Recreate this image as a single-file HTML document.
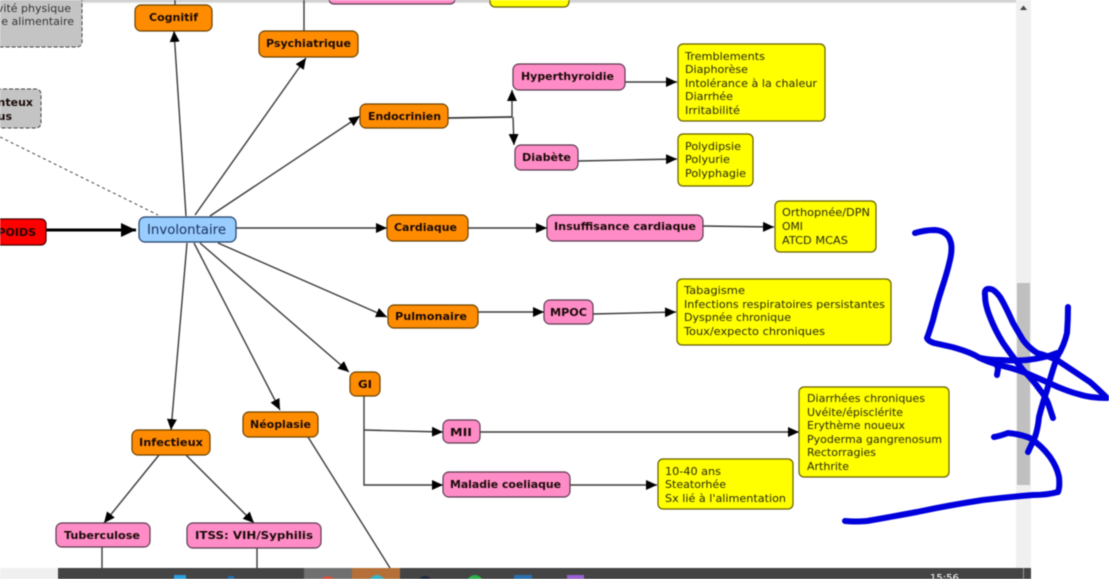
<!DOCTYPE html>
<html><head><meta charset="utf-8"><style>
html,body{margin:0;padding:0;width:1109px;height:579px;overflow:hidden;background:#fff}
svg{display:block;position:absolute;left:0;top:0}
#d{filter:blur(.5px)}
text{font-family:"DejaVu Sans","Liberation Sans",sans-serif}
.b{font-size:11px;font-weight:bold;fill:#1a0a08}
.y{font-size:11px;fill:#2a2a10}
.o{fill:#ff8c00;stroke:#6b4200;stroke-width:1.2}
.p{fill:#ff8cc6;stroke:#5a3a50;stroke-width:1.2}
.w{fill:#ffff00;stroke:#665f00;stroke-width:1.2}
.g{fill:#c4c4c4;stroke:#444;stroke-width:1;stroke-dasharray:4 2}
.l{fill:none;stroke:#3a3a3a;stroke-width:1.4;marker-end:url(#a)}
.m{fill:none;stroke:#3a3a3a;stroke-width:1.4}
.s{fill:none;stroke:#0000dc;stroke-width:6;stroke-linecap:round;stroke-linejoin:round}
</style></head><body>
<svg id="d" width="1109" height="579" viewBox="0 0 1109 579" xmlns="http://www.w3.org/2000/svg">
<defs>
<marker id="a" markerUnits="userSpaceOnUse" markerWidth="12" markerHeight="10" refX="11" refY="5" orient="auto"><path d="M0 0L11 5L0 10Z" fill="#000"/></marker>
<marker id="t" markerUnits="userSpaceOnUse" markerWidth="16" markerHeight="14" refX="15" refY="7" orient="auto"><path d="M0 0L15 7L0 14Z" fill="#000"/></marker>
<linearGradient id="sh" x1="0" y1="0" x2="0" y2="1"><stop offset="0" stop-color="#bbb"/><stop offset="1" stop-color="#fff"/></linearGradient>
</defs>
<rect x="0" y="0" width="1016" height="4" fill="url(#sh)"/>

<!-- scrollbar -->
<rect x="1016" y="0" width="15" height="568" fill="#f0f0f0"/>
<rect x="1017" y="283" width="13" height="202" fill="#c0c0c0"/>
<path d="M1020 10L1023.500 5.500L1027 10Z" fill="#444"/>

<!-- connectors -->
<path d="M0 137L158 215" fill="none" stroke="#444" stroke-width="1" stroke-dasharray="3 3"/>
<path d="M46 230L136 230" fill="none" stroke="#000" stroke-width="3" marker-end="url(#t)"/>
<path class="l" d="M186 216L174 31"/>
<path class="l" d="M195 215L306 58"/>
<path class="l" d="M210 216L360 116"/>
<path class="l" d="M236 228L387 228"/>
<path class="l" d="M218 243L387 317"/>
<path class="l" d="M200 243L349 372"/>
<path class="l" d="M194 243L280 410"/>
<path class="l" d="M187 243L171 430"/>
<path class="m" d="M308 437L390 568"/>
<path class="l" d="M159 455L104 523"/>
<path class="l" d="M186 455L254 523"/>
<path class="m" d="M102 547V568M257 548V568M175 0V5M304 0V31"/>
<path class="m" style="stroke-width:1.800" d="M448 118L512 117"/>
<path class="l" d="M512 117L512 90"/>
<path class="l" d="M513 117L514 145"/>
<path class="l" d="M625 82L677 82"/>
<path class="l" d="M578 161L677 159"/>
<path class="l" d="M468 228L547 228"/>
<path class="l" d="M703 226L774 227"/>
<path class="l" d="M478 312L544 312"/>
<path class="l" d="M593 314L676 312"/>
<path class="l" d="M364 396L364 485L443 485"/>
<path class="l" d="M364 430L443 432"/>
<path class="l" d="M480 432L799 432"/>
<path class="l" d="M570 485L657 485"/>

<!-- grey -->
<rect class="g" x="-20" y="-10" width="102" height="57" rx="5"/>
<text x="71" y="12" text-anchor="end" font-size="11" fill="#333">vité physique</text>
<text x="74" y="25" text-anchor="end" font-size="11" fill="#333">e alimentaire</text>
<rect class="g" x="-20" y="89" width="61" height="39" rx="5"/>
<text x="33" y="106" text-anchor="end" class="b">nteux</text>
<text x="12" y="120" text-anchor="end" class="b">us</text>

<!-- red + blue -->
<rect x="-20" y="219" width="66" height="26" rx="5" fill="#ff0000" stroke="#400" stroke-width="1.2"/>
<text x="36" y="236" text-anchor="end" class="b">POIDS</text>
<rect x="139" y="217" width="97" height="25" rx="6" fill="#99ccff" stroke="#1f3f66" stroke-width="1.2"/>
<text x="147" y="234" font-size="13" fill="#1a3560" textLength="79" lengthAdjust="spacingAndGlyphs">Involontaire</text>

<!-- top fragments -->
<rect class="p" x="329" y="-10" width="126" height="14" rx="5"/>
<rect class="w" x="490" y="-10" width="79" height="17" rx="5"/>

<!-- orange -->
<rect class="o" x="135" y="5" width="77" height="26" rx="6"/>
<text class="b" x="149" y="21" textLength="49" lengthAdjust="spacingAndGlyphs">Cognitif</text>
<rect class="o" x="259" y="31" width="99" height="26" rx="6"/>
<text class="b" x="266" y="47" textLength="85" lengthAdjust="spacingAndGlyphs">Psychiatrique</text>
<rect class="o" x="360" y="104" width="88" height="24" rx="6"/>
<text class="b" x="368" y="120" textLength="73" lengthAdjust="spacingAndGlyphs">Endocrinien</text>
<rect class="o" x="387" y="215" width="81" height="26" rx="6"/>
<text class="b" x="394" y="231" textLength="63" lengthAdjust="spacingAndGlyphs">Cardiaque</text>
<rect class="o" x="388" y="305" width="90" height="23" rx="6"/>
<text class="b" x="395" y="320" textLength="72" lengthAdjust="spacingAndGlyphs">Pulmonaire</text>
<rect class="o" x="350" y="372" width="30" height="24" rx="6"/>
<text class="b" x="358" y="388" textLength="14" lengthAdjust="spacingAndGlyphs">GI</text>
<rect class="o" x="243" y="412" width="75" height="25" rx="6"/>
<text class="b" x="250" y="428" textLength="61" lengthAdjust="spacingAndGlyphs">Néoplasie</text>
<rect class="o" x="132" y="430" width="78" height="25" rx="6"/>
<text class="b" x="139" y="446" textLength="64" lengthAdjust="spacingAndGlyphs">Infectieux</text>

<!-- pink -->
<rect class="p" x="513" y="64" width="112" height="26" rx="6"/>
<text class="b" x="521" y="80" textLength="93" lengthAdjust="spacingAndGlyphs">Hyperthyroidie</text>
<rect class="p" x="515" y="145" width="63" height="25" rx="6"/>
<text class="b" x="522" y="161" textLength="49" lengthAdjust="spacingAndGlyphs">Diabète</text>
<rect class="p" x="547" y="215" width="156" height="26" rx="6"/>
<text class="b" x="554" y="230" textLength="142" lengthAdjust="spacingAndGlyphs">Insuffisance cardiaque</text>
<rect class="p" x="544" y="300" width="49" height="24" rx="6"/>
<text class="b" x="550" y="316" textLength="37" lengthAdjust="spacingAndGlyphs">MPOC</text>
<rect class="p" x="443" y="420" width="37" height="23" rx="6"/>
<text class="b" x="450" y="436" textLength="22" lengthAdjust="spacingAndGlyphs">MII</text>
<rect class="p" x="443" y="472" width="127" height="25" rx="6"/>
<text class="b" x="450" y="488" textLength="111" lengthAdjust="spacingAndGlyphs">Maladie coeliaque</text>
<rect class="p" x="56" y="523" width="94" height="24" rx="6"/>
<text class="b" x="64" y="539" textLength="76" lengthAdjust="spacingAndGlyphs">Tuberculose</text>
<rect class="p" x="187" y="523" width="134" height="25" rx="6"/>
<text class="b" x="195" y="539" textLength="118" lengthAdjust="spacingAndGlyphs">ITSS: VIH/Syphilis</text>

<!-- yellow -->
<rect class="w" x="678" y="44" width="147" height="77" rx="5"/>
<text class="y" x="685" y="60" textLength="80" lengthAdjust="spacingAndGlyphs">Tremblements</text>
<text class="y" x="685" y="73" textLength="63" lengthAdjust="spacingAndGlyphs">Diaphorèse</text>
<text class="y" x="685" y="87" textLength="132" lengthAdjust="spacingAndGlyphs">Intolérance à la chaleur</text>
<text class="y" x="685" y="100" textLength="48" lengthAdjust="spacingAndGlyphs">Diarrhée</text>
<text class="y" x="685" y="114" textLength="55" lengthAdjust="spacingAndGlyphs">Irritabilité</text>

<rect class="w" x="678" y="134" width="75" height="52" rx="5"/>
<text class="y" x="685" y="150" textLength="56" lengthAdjust="spacingAndGlyphs">Polydipsie</text>
<text class="y" x="685" y="163" textLength="45" lengthAdjust="spacingAndGlyphs">Polyurie</text>
<text class="y" x="685" y="177" textLength="61" lengthAdjust="spacingAndGlyphs">Polyphagie</text>

<rect class="w" x="775" y="201" width="101" height="51" rx="5"/>
<text class="y" x="782" y="216" textLength="88" lengthAdjust="spacingAndGlyphs">Orthopnée/DPN</text>
<text class="y" x="782" y="230" textLength="21" lengthAdjust="spacingAndGlyphs">OMI</text>
<text class="y" x="782" y="244" textLength="66" lengthAdjust="spacingAndGlyphs">ATCD MCAS</text>

<rect class="w" x="677" y="279" width="214" height="66" rx="5"/>
<text class="y" x="684" y="294" textLength="61" lengthAdjust="spacingAndGlyphs">Tabagisme</text>
<text class="y" x="684" y="308" textLength="201" lengthAdjust="spacingAndGlyphs">Infections respiratoires persistantes</text>
<text class="y" x="684" y="321" textLength="107" lengthAdjust="spacingAndGlyphs">Dyspnée chronique</text>
<text class="y" x="684" y="335" textLength="141" lengthAdjust="spacingAndGlyphs">Toux/expecto chroniques</text>

<rect class="w" x="799" y="387" width="150" height="90" rx="5"/>
<text class="y" x="807" y="402" textLength="118" lengthAdjust="spacingAndGlyphs">Diarrhées chroniques</text>
<text class="y" x="807" y="416" textLength="96" lengthAdjust="spacingAndGlyphs">Uvéite/épisclérite</text>
<text class="y" x="807" y="429" textLength="98" lengthAdjust="spacingAndGlyphs">Erythème noueux</text>
<text class="y" x="807" y="443" textLength="135" lengthAdjust="spacingAndGlyphs">Pyoderma gangrenosum</text>
<text class="y" x="807" y="456" textLength="69" lengthAdjust="spacingAndGlyphs">Rectorragies</text>
<text class="y" x="807" y="470" textLength="42" lengthAdjust="spacingAndGlyphs">Arthrite</text>

<rect class="w" x="658" y="459" width="135" height="50" rx="5"/>
<text class="y" x="665" y="475" textLength="56" lengthAdjust="spacingAndGlyphs">10-40 ans</text>
<text class="y" x="665" y="488" textLength="61" lengthAdjust="spacingAndGlyphs">Steatorhée</text>
<text class="y" x="665" y="502" textLength="121" lengthAdjust="spacingAndGlyphs">Sx lié à l'alimentation</text>

<!-- taskbar -->
<rect x="0" y="568" width="58" height="11" fill="#f0f0f0"/>
<rect x="58" y="568" width="973" height="11" fill="#444"/>
<rect x="304" y="568" width="48" height="11" fill="#707070"/>
<rect x="352" y="568" width="48" height="11" fill="#b5703a"/>
<rect x="174" y="575" width="12" height="4" fill="#2a9fe0"/>
<rect x="228" y="576" width="6" height="3" fill="#1f6fb0"/>
<circle cx="328" cy="583" r="7" fill="#d8503f"/>
<circle cx="377" cy="583" r="8" fill="#38b6c8"/>
<circle cx="425" cy="583" r="7" fill="#1c2a3a"/>
<circle cx="475" cy="583" r="8" fill="#2cb04a"/>
<rect x="514" y="575" width="18" height="4" fill="#2a6fb0"/>
<rect x="567" y="575" width="17" height="4" fill="#9a5fd0"/>
<rect x="1023" y="568" width="1" height="11" fill="#999"/>
<text x="930" y="581" font-size="10" fill="#fff" font-family="Liberation Sans">15:56</text>

<!-- scribble -->
<path class="s" d="M915 233Q925 230 935 230Q947 231 950 240Q953 247 950 260Q947 273 942 288Q937 303 933 320Q929 333 927 338Q928 341 934 343L952 347Q970 352 978 357Q987 362 1003 366Q1020 370 1033 376Q1047 382 1058 387Q1070 392 1078 394Q1090 398 1107 398Q1097 388 1090 382Q1075 372 1057 360Q1045 355 1037 353Q1028 347 1023 340Q1017 330 1013 323Q1005 305 1000 297Q994 289 990 289Q984 288 985 295Q985 305 990 317Q995 330 1003 343Q1012 356 1023 370Q1033 380 1040 390Q1045 396 1048 403L1053 418"/>
<path class="s" d="M1068 307Q1068 320 1067 333Q1064 346 1057 357Q1052 372 1047 390Q1042 405 1039 417Q1038 428 1035 437L1028 452"/>
<path class="s" d="M980 358Q990 360 1000 360Q1015 361 1027 360Q1045 358 1057 353"/>
<path class="s" d="M993 360Q998 366 998 369L997 375"/>
<path class="s" d="M994 437Q1000 436 1008 433Q1020 434 1030 438Q1042 446 1050 457Q1057 467 1059 477Q1060 487 1058 492Q1047 495 1033 495Q1008 497 983 500Q950 505 917 512Q890 517 867 521Q855 522 845 521"/>
</svg>
</body></html>
